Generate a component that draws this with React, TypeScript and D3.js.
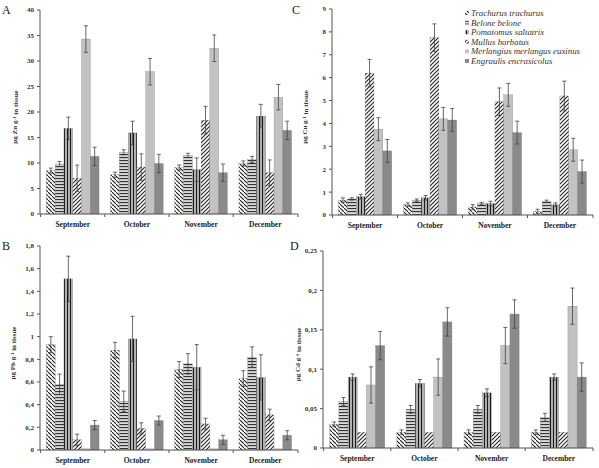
import { useRef, useEffect } from "react";
import * as d3 from "d3";

const months = ["September", "October", "November", "December"];
const species = [
  "Trachurus trachurus",
  "Belone belone",
  "Pomatomus saltatrix",
  "Mullus barbatus",
  "Merlangius merlangus euxinus",
  "Engraulis encrasicolus",
];

// rows = months, cols = species
const znValues = [
  [8.5, 9.8, 16.8, 7.0, 34.3, 11.3],
  [7.7, 12.1, 15.9, 9.2, 27.9, 9.9],
  [9.1, 11.5, 8.7, 18.4, 32.5, 8.1],
  [9.9, 10.7, 19.2, 8.1, 22.9, 16.4],
];
const znErrors = [
  [0.5, 0.5, 2.2, 2.6, 2.6, 1.8],
  [0.5, 0.5, 2.3, 2.6, 2.6, 1.8],
  [0.5, 0.4, 2.3, 2.7, 2.6, 1.7],
  [0.5, 0.6, 2.3, 2.5, 2.5, 1.8],
];

const pbValues = [
  [0.93, 0.58, 1.51, 0.09, 0.01, 0.22],
  [0.88, 0.43, 0.98, 0.19, 0.01, 0.26],
  [0.71, 0.76, 0.73, 0.23, 0.01, 0.09],
  [0.63, 0.82, 0.64, 0.31, 0.01, 0.13],
];
const pbErrors = [
  [0.07, 0.09, 0.2, 0.05, 0, 0.04],
  [0.07, 0.09, 0.2, 0.05, 0, 0.04],
  [0.07, 0.09, 0.2, 0.05, 0, 0.04],
  [0.07, 0.09, 0.2, 0.05, 0, 0.04],
];

const cuValues = [
  [0.65, 0.7, 0.8, 6.2, 3.75, 2.8],
  [0.45, 0.65, 0.75, 7.75, 4.2, 4.15],
  [0.35, 0.5, 0.5, 4.95, 5.25, 3.6],
  [0.15, 0.6, 0.45, 5.2, 2.85, 1.9],
];
const cuErrors = [
  [0.1, 0.05, 0.1, 0.6, 0.5, 0.5],
  [0.08, 0.05, 0.1, 0.6, 0.5, 0.5],
  [0.1, 0.05, 0.1, 0.6, 0.5, 0.5],
  [0.1, 0.05, 0.08, 0.65, 0.5, 0.5],
];

const cdValues = [
  [0.03, 0.059, 0.09, 0.02, 0.08, 0.13],
  [0.02, 0.049, 0.082, 0.02, 0.09, 0.16],
  [0.02, 0.049, 0.07, 0.02, 0.13, 0.17],
  [0.02, 0.039, 0.09, 0.02, 0.18, 0.09],
];
const cdErrors = [
  [0.003, 0.005, 0.004, 0, 0.023, 0.018],
  [0.003, 0.005, 0.005, 0, 0.023, 0.018],
  [0.003, 0.005, 0.005, 0, 0.023, 0.018],
  [0.003, 0.005, 0.004, 0, 0.023, 0.018],
];

const fills = [
  "url(#hatchBack)",
  "url(#hatchHoriz)",
  "url(#hatchVert)",
  "url(#hatchFwd)",
  "#c2c2c2",
  "#8a8a8a",
];

const panels = [
  { letter: "A", metal: "Zn", values: znValues, errors: znErrors, max: 40, step: 5,
    x0: 40, x1: 298, yTop: 10, yBot: 214, lx: 2, ly: 10, ax: 15 },
  { letter: "B", metal: "Pb", values: pbValues, errors: pbErrors, max: 1.8, step: 0.2,
    x0: 40, x1: 298, yTop: 246, yBot: 450, lx: 2, ly: 246, ax: 13 },
  { letter: "C", metal: "Cu", values: cuValues, errors: cuErrors, max: 9, step: 1,
    x0: 332, x1: 593, yTop: 9, yBot: 215, lx: 292, ly: 10, ax: 305 },
  { letter: "D", metal: "Cd", values: cdValues, errors: cdErrors, max: 0.25, step: 0.05,
    x0: 323, x1: 593, yTop: 251, yBot: 448, lx: 290, ly: 246, ax: 298 },
];

const SERIF = "Liberation Serif, Times New Roman, Times, serif";
const AXIS = "#555";

const App = () => {
  const svgRef = useRef<SVGSVGElement>(null);

  useEffect(() => {
    const svg = d3.select(svgRef.current);
    svg.selectAll("*").remove();

    const defs = svg.append("defs");
    const back = defs.append("pattern").attr("id", "hatchBack")
      .attr("patternUnits", "userSpaceOnUse").attr("width", 4).attr("height", 4);
    back.append("rect").attr("width", 4).attr("height", 4).attr("fill", "#fff");
    back.append("path").attr("d", "M-1,-1 l2,2 M0,0 l4,4 M3,3 l2,2")
      .attr("stroke", "#222").attr("stroke-width", 1.1);

    const fwd = defs.append("pattern").attr("id", "hatchFwd")
      .attr("patternUnits", "userSpaceOnUse").attr("width", 4).attr("height", 4);
    fwd.append("rect").attr("width", 4).attr("height", 4).attr("fill", "#fff");
    fwd.append("path").attr("d", "M-1,1 l2,-2 M0,4 l4,-4 M3,5 l2,-2")
      .attr("stroke", "#222").attr("stroke-width", 1.1);

    const hor = defs.append("pattern").attr("id", "hatchHoriz")
      .attr("patternUnits", "userSpaceOnUse").attr("width", 3).attr("height", 3);
    hor.append("rect").attr("width", 3).attr("height", 3).attr("fill", "#d8d8d8");
    hor.append("rect").attr("y", 1).attr("width", 3).attr("height", 1.1).attr("fill", "#333");

    const ver = defs.append("pattern").attr("id", "hatchVert")
      .attr("patternUnits", "userSpaceOnUse").attr("width", 3).attr("height", 3);
    ver.append("rect").attr("width", 3).attr("height", 3).attr("fill", "#b0b0b0");
    ver.append("rect").attr("x", 1).attr("width", 1).attr("height", 3).attr("fill", "#1a1a1a");

    const fmt = (v: number) => String(+v.toFixed(3)).replace(".", ",");

    panels.forEach((p) => {
      const g = svg.append("g");
      const x = d3.scaleBand().domain(months).range([p.x0, p.x1])
        .paddingInner(0.18).paddingOuter(0.1);
      const xs = d3.scaleBand().domain(species.map((_, i) => String(i)))
        .range([0, x.bandwidth()]);
      const y = d3.scaleLinear().domain([0, p.max]).range([p.yBot, p.yTop]);

      // panel letter
      g.append("text").attr("x", p.lx).attr("y", p.ly).attr("dy", "0.35em")
        .style("font-family", SERIF).style("font-size", "12px").style("fill", "#222")
        .text(p.letter);

      // y axis
      const ticks = d3.range(0, Math.round(p.max / p.step) + 1).map((i) => +(i * p.step).toFixed(3));
      g.append("line").attr("x1", p.x0).attr("x2", p.x0).attr("y1", p.yTop).attr("y2", p.yBot)
        .attr("stroke", AXIS).attr("stroke-width", 1);
      ticks.forEach((t) => {
        g.append("line").attr("x1", p.x0 - 3).attr("x2", p.x0)
          .attr("y1", y(t)).attr("y2", y(t)).attr("stroke", AXIS).attr("stroke-width", 1);
        g.append("text").attr("x", p.x0 - 6).attr("y", y(t)).attr("dy", "0.35em")
          .attr("text-anchor", "end").style("font-family", SERIF).style("font-size", "7px")
          .style("font-weight", "bold").style("fill", "#333").text(fmt(t));
      });

      // y label
      const lab = g.append("text")
        .attr("transform", `translate(${p.ax},${(p.yTop + p.yBot) / 2 + 5}) rotate(-90)`)
        .attr("text-anchor", "middle").attr("dy", "0.35em")
        .style("font-family", SERIF).style("font-size", "7px").style("font-weight", "bold")
        .style("fill", "#333");
      lab.append("tspan").text(`µg ${p.metal} g`);
      lab.append("tspan").attr("dy", "-0.35em").style("font-size", "5px").text("-1");
      lab.append("tspan").attr("dy", "0.35em").text(" in tissue");

      // bars
      months.forEach((m, mi) => {
        species.forEach((_, si) => {
          const v = p.values[mi][si];
          const e = p.errors[mi][si];
          const bx = (x(m) as number) + (xs(String(si)) as number);
          const bw = xs.bandwidth();
          g.append("rect").attr("x", bx).attr("y", y(v)).attr("width", bw)
            .attr("height", p.yBot - y(v)).attr("fill", fills[si])
            .attr("stroke", "#777").attr("stroke-width", 0.3);
          if (e > 0) {
            const cx = bx + bw / 2;
            g.append("path")
              .attr("d", `M${cx},${y(v - e)}V${y(v + e)}M${cx - 2},${y(v + e)}h4M${cx - 2},${y(v - e)}h4`)
              .attr("stroke", "#444").attr("stroke-width", 0.8).attr("fill", "none");
          }
        });
        g.append("text").attr("x", (x(m) as number) + x.bandwidth() / 2).attr("y", p.yBot + 10)
          .attr("dy", "0.35em").attr("text-anchor", "middle")
          .style("font-family", SERIF).style("font-size", "7.5px").style("font-weight", "bold")
          .style("fill", "#222").text(m);
      });

      // x axis
      g.append("line").attr("x1", p.x0).attr("x2", p.x1).attr("y1", p.yBot).attr("y2", p.yBot)
        .attr("stroke", AXIS).attr("stroke-width", 1);
      const step = x.step();
      const bounds = months.map((m) => (x(m) as number) - (step - x.bandwidth()) / 2).concat([p.x1]);
      bounds.forEach((bx) => {
        g.append("line").attr("x1", bx).attr("x2", bx).attr("y1", p.yBot).attr("y2", p.yBot + 3)
          .attr("stroke", AXIS).attr("stroke-width", 1);
      });
    });

    // legend in panel C
    const leg = svg.append("g").attr("transform", "translate(465,13)");
    species.forEach((s, i) => {
      const row = leg.append("g").attr("transform", `translate(0,${i * 9.6})`);
      row.append("rect").attr("x", 0).attr("y", -2).attr("width", 4).attr("height", 4)
        .attr("fill", fills[i]);
      row.append("text").attr("x", 6).attr("dy", "0.35em")
        .style("font-family", SERIF).style("font-size", "8.8px").style("font-style", "italic")
        .style("fill", "#333").text(s);
    });
  }, []);

  return (
    <svg
      ref={svgRef}
      width={599}
      height={468}
      style={{ position: "absolute", left: 0, top: 0, background: "#fff" }}
    />
  );
};

export default App;
